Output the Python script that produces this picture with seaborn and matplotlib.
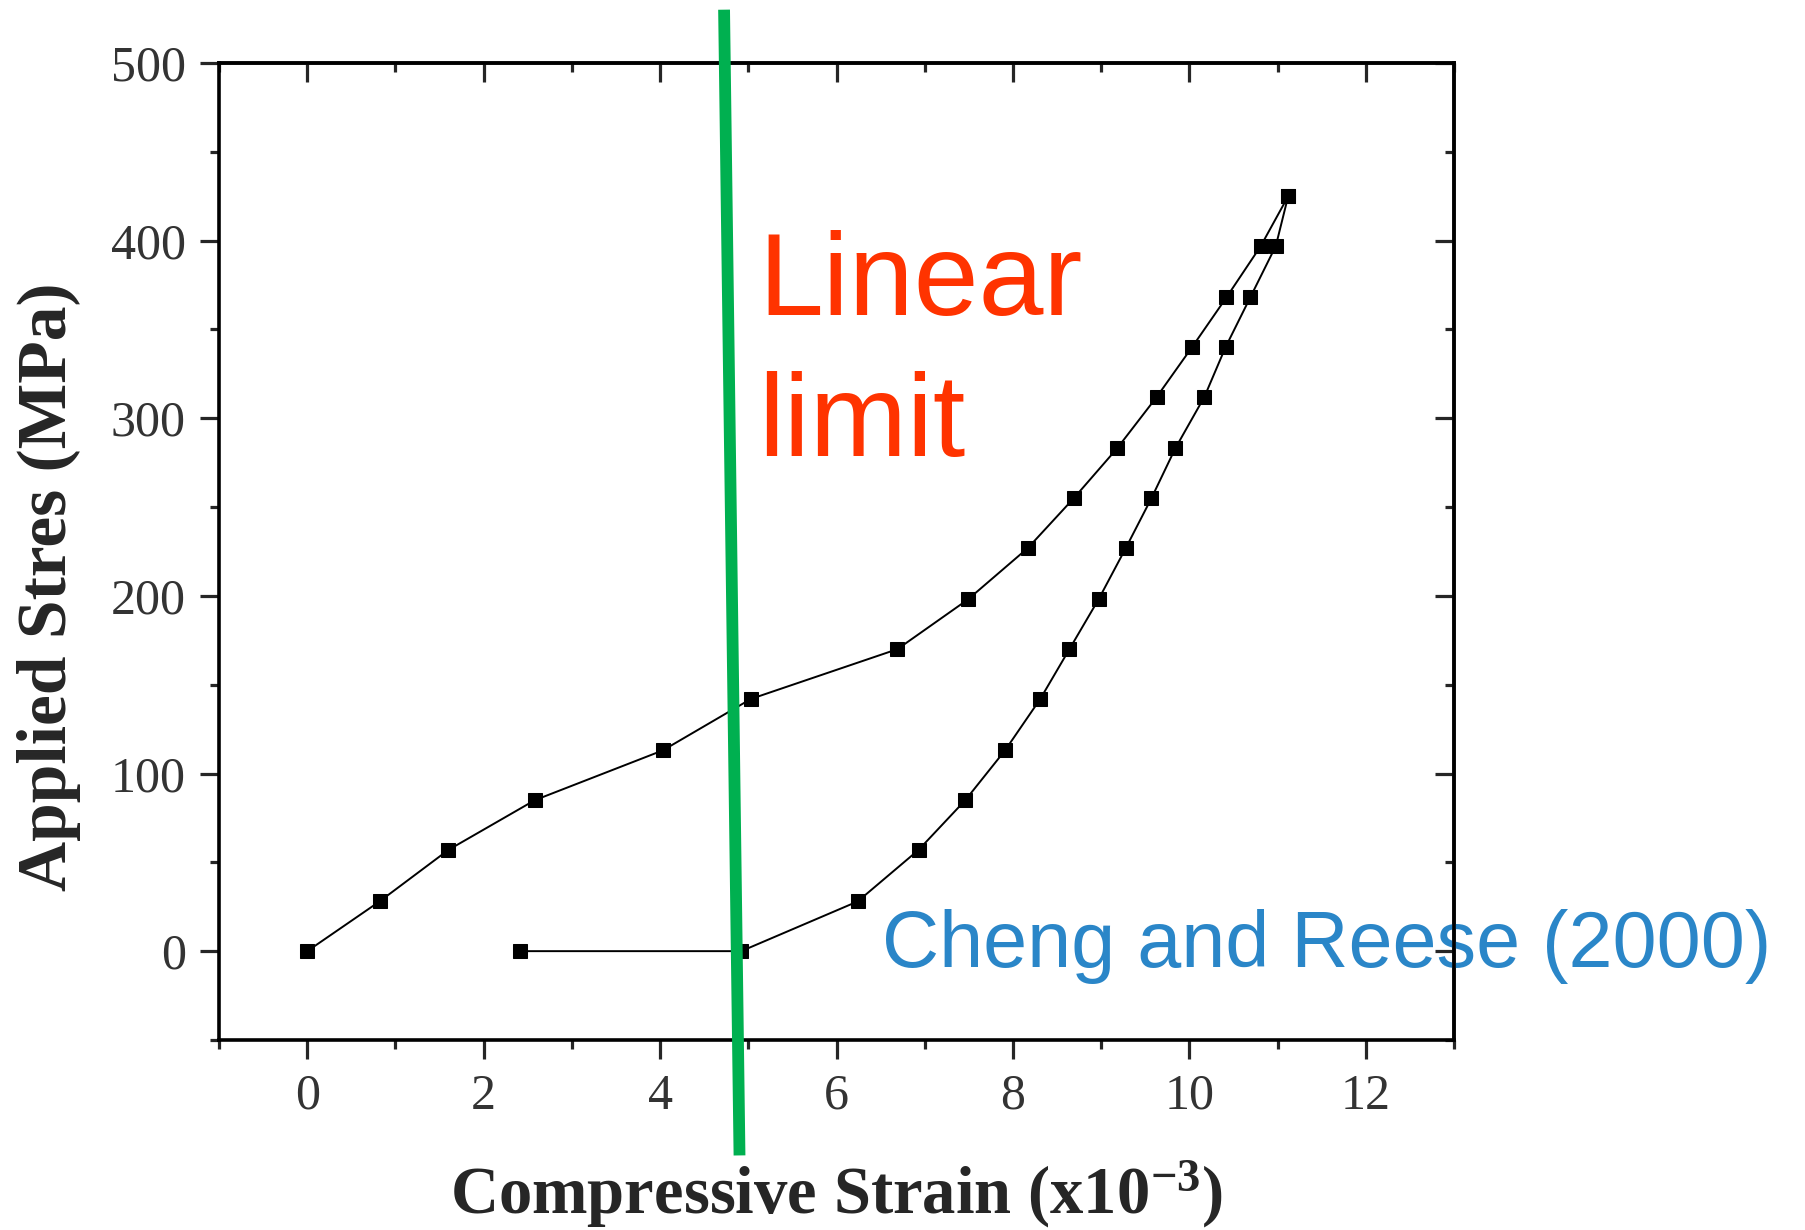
import numpy as np
import pandas as pd
import matplotlib
matplotlib.use("Agg")
import matplotlib.pyplot as plt
import seaborn as sns

# Loading branch: compressive strain (x10^-3) vs applied stress (MPa)
load_strain = [0.0, 0.82, 1.60, 2.58, 4.03, 5.03, 6.69, 7.49, 8.17, 8.69,
               9.18, 9.63, 10.03, 10.42, 10.81, 11.12]
load_stress = [0, 28, 57, 85, 113, 142, 170, 198, 227, 255,
               283, 312, 340, 368, 397, 425]

# Unloading branch back to zero stress
unload_strain = [11.12, 10.98, 10.69, 10.41, 10.17, 9.84, 9.57, 9.28, 8.97,
                 8.64, 8.31, 7.91, 7.46, 6.93, 6.24, 4.92, 2.41]
unload_stress = [425, 397, 368, 340, 312, 283, 255, 227, 198,
                 170, 142, 113, 85, 57, 28, 0, 0]

# Linear limit marker line (endpoints in data units, extends past the frame)
limit_strain = [4.725, 4.90]
limit_stress = [530, -115]

x_ticks = [0, 2, 4, 6, 8, 10, 12]
y_ticks = [0, 100, 200, 300, 400, 500]
x_minor = np.arange(-1, 14, 1)
y_minor = np.arange(-50, 501, 50)

sns.set_style("ticks")
plt.rcParams["font.family"] = ["Liberation Serif", "DejaVu Serif"]
plt.rcParams["mathtext.fontset"] = "custom"
plt.rcParams["mathtext.rm"] = "Liberation Serif:bold"
plt.rcParams["mathtext.bf"] = "Liberation Serif:bold"
plt.rcParams["mathtext.default"] = "rm"

fig = plt.figure(figsize=(18.06, 12.30), dpi=100)
ax = fig.add_axes([0.1213, 0.1545, 0.6838, 0.7943])

load_df = pd.DataFrame({"strain": load_strain, "stress": load_stress})
unload_df = pd.DataFrame({"strain": unload_strain, "stress": unload_stress})

for df in (load_df, unload_df):
    sns.lineplot(data=df, x="strain", y="stress", sort=False, estimator=None,
                 color="black", linewidth=1.4, marker="s", markersize=9.5,
                 markeredgecolor="black", markerfacecolor="black", ax=ax,
                 zorder=3)

ax.set_xlim(-1, 13)
ax.set_ylim(-50, 500)
ax.set_xticks(x_ticks)
ax.set_yticks(y_ticks)
ax.set_xticks(x_minor, minor=True)
ax.set_yticks(y_minor, minor=True)

for s in ax.spines.values():
    s.set_linewidth(2.6)
    s.set_color("black")
    s.set_visible(True)

ax.tick_params(which="major", direction="out", length=14, width=2.3,
               labelsize=36, labelcolor="#333333", pad=10)
ax.tick_params(which="minor", direction="out", length=6.5, width=2.3)

# Inward ticks on the top and right frame edges
top = ax.secondary_xaxis("top")
top.set_xticks(x_ticks)
top.set_xticks(x_minor, minor=True)
top.tick_params(which="major", direction="in", length=14, width=2.3, labeltop=False)
top.tick_params(which="minor", direction="in", length=6.5, width=2.3)
top.spines["top"].set_linewidth(2.6)
right = ax.secondary_yaxis("right")
right.set_yticks(y_ticks)
right.set_yticks(y_minor, minor=True)
right.tick_params(which="major", direction="in", length=14, width=2.3, labelright=False)
right.tick_params(which="minor", direction="in", length=6.5, width=2.3)
right.spines["right"].set_linewidth(2.6)

ax.set_xlabel("Compressive Strain (x10$^{-3}$)", fontsize=48, fontweight="bold",
              va="center")
ax.xaxis.set_label_coords(0.50, -0.158)
ax.set_ylabel("Applied Stres (MPa)", fontsize=50, fontweight="bold", va="center")
ax.yaxis.set_label_coords(-0.138, 0.464)

ax.plot(limit_strain, limit_stress, color="#00B050", linewidth=8.5,
        clip_on=False, zorder=4, solid_capstyle="butt")

sans = ["Liberation Sans", "DejaVu Sans"]
ax.text(5.11, 358, "Linear", color="#FF3300", fontsize=84, family=sans,
        va="baseline", ha="left", zorder=5)
ax.text(5.11, 279, "limit", color="#FF3300", fontsize=84, family=sans,
        va="baseline", ha="left", zorder=5)
ax.text(6.52, -9, "Cheng and Reese (2000)", color="#2A86C8", fontsize=57,
        family=sans, va="baseline", ha="left", zorder=1, clip_on=False)

fig.savefig("out.png", dpi=100)
